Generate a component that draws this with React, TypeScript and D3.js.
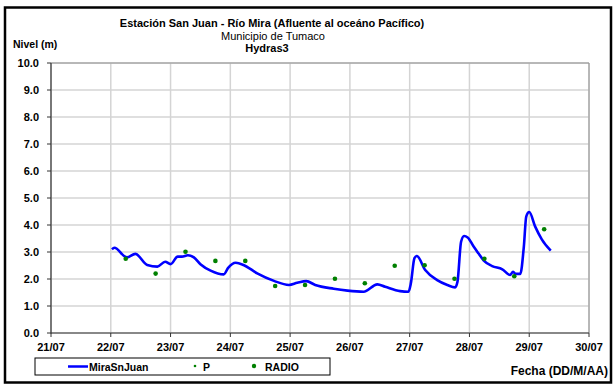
import React from "react";
import * as d3 from "d3";

const lineDays = [22.02, 22.06, 22.27, 22.41, 22.61, 22.78, 22.91, 23.0, 23.12, 23.19, 23.29, 23.39, 23.5, 23.67, 23.89, 23.96, 24.09, 24.22, 24.45, 24.73, 24.98, 25.12, 25.27, 25.42, 25.73, 25.96, 26.23, 26.46, 26.59, 26.84, 26.98, 27.02, 27.08, 27.12, 27.26, 27.46, 27.63, 27.76, 27.8, 27.86, 27.91, 27.97, 28.07, 28.15, 28.24, 28.38, 28.55, 28.68, 28.73, 28.77, 28.85, 28.91, 28.95, 29.0, 29.1, 29.21, 29.36];
const lineLevels = [3.1, 3.16, 2.8, 2.93, 2.52, 2.46, 2.64, 2.55, 2.83, 2.83, 2.88, 2.8, 2.55, 2.31, 2.17, 2.4, 2.6, 2.52, 2.21, 1.93, 1.78, 1.86, 1.92, 1.78, 1.64, 1.57, 1.53, 1.8, 1.71, 1.55, 1.53, 1.84, 2.77, 2.85, 2.33, 1.96, 1.78, 1.69, 1.9, 3.38, 3.59, 3.54, 3.2, 2.95, 2.68, 2.48, 2.36, 2.15, 2.27, 2.19, 2.19, 3.2, 4.31, 4.48, 3.94, 3.47, 3.05];

const radioDays = [22.25, 22.75, 23.25, 23.75, 24.25, 24.75, 25.25, 25.75, 26.25, 26.75, 27.25, 27.75, 28.25, 28.75, 29.25];
const radioLevels = [2.75, 2.2, 3.01, 2.67, 2.67, 1.74, 1.78, 2.01, 1.84, 2.49, 2.51, 2.01, 2.75, 2.1, 3.84];

const xTickDays = [21, 22, 23, 24, 25, 26, 27, 28, 29, 30];
const yTicks = [0, 1, 2, 3, 4, 5, 6, 7, 8, 9, 10];

const titleLines = ["Estación San Juan  - Río Mira (Afluente al oceáno Pacífico)", "Municipio de Tumaco", "Hydras3"];

const FONT = "'Liberation Sans', Arial, sans-serif";

export default function App() {
  const W = 614, H = 384;
  const left = 51, right = 589, top = 63, bottom = 333;
  const x = d3.scaleLinear().domain([21, 30]).range([left, right]);
  const y = d3.scaleLinear().domain([0, 10]).range([bottom, top]);
  const pts: [number, number][] = lineDays.map((d, i) => [d, lineLevels[i]]);
  const line = d3.line<[number, number]>().x(d => x(d[0])).y(d => y(d[1])).curve(d3.curveMonotoneX);
  const fmt = (d: number) => `${String(d).padStart(2, "0")}/07`;

  return (
    <svg width={W} height={H} style={{ position: "absolute", left: 0, top: 0, background: "#fff" }} fontFamily={FONT}>
      <rect x={0} y={0} width={W} height={H} fill="#fff" />
      <rect x={5} y={7.5} width={606} height={375} fill="none" stroke="#000" strokeWidth={2.5} />
      {/* grid */}
      {yTicks.map(t => (
        <line key={"gy" + t} x1={left} x2={right} y1={y(t)} y2={y(t)} stroke="#d4d4d4" strokeWidth={1.5} />
      ))}
      {xTickDays.map(t => (
        <line key={"gx" + t} x1={x(t)} x2={x(t)} y1={top} y2={bottom} stroke="#d4d4d4" strokeWidth={1.5} />
      ))}
      {/* frame */}
      <line x1={left} x2={right} y1={top} y2={top} stroke="#909090" strokeWidth={1} />
      <line x1={right} x2={right} y1={top} y2={bottom} stroke="#909090" strokeWidth={1} />
      <line x1={left} x2={left} y1={top} y2={bottom + 0.5} stroke="#333" strokeWidth={1.2} />
      <line x1={left} x2={right} y1={bottom} y2={bottom} stroke="#333" strokeWidth={1.2} />
      {yTicks.map(t => (
        <g key={"yt" + t}>
          <line x1={left - 4} x2={left} y1={y(t)} y2={y(t)} stroke="#333" strokeWidth={1} />
          <text x={39} y={y(t) + 4} textAnchor="end" fontSize={11} fontWeight="bold">{t.toFixed(1)}</text>
        </g>
      ))}
      {xTickDays.map(t => (
        <g key={"xt" + t}>
          <line x1={x(t)} x2={x(t)} y1={bottom} y2={bottom + 4} stroke="#333" strokeWidth={1} />
          <text x={x(t)} y={351} textAnchor="middle" fontSize={11} fontWeight="bold">{fmt(t)}</text>
        </g>
      ))}
      {/* series */}
      <path d={line(pts) || ""} fill="none" stroke="#0000ff" strokeWidth={2.6} strokeLinejoin="round" />
      {radioDays.map((d, i) => (
        <circle key={"r" + i} cx={x(d)} cy={y(radioLevels[i])} r={2.3} fill="#008000" />
      ))}
      {/* titles */}
      <text x={272} y={27} textAnchor="middle" fontSize={11} fontWeight="bold">{titleLines[0]}</text>
      <text x={273} y={40} textAnchor="middle" fontSize={11}>{titleLines[1]}</text>
      <text x={267} y={52} textAnchor="middle" fontSize={11} fontWeight="bold">{titleLines[2]}</text>
      <text x={13} y={48} fontSize={10.5} fontWeight="bold">Nivel (m)</text>
      <text x={608} y={375} textAnchor="end" fontSize={12} fontWeight="bold">Fecha (DD/M/AA)</text>
      {/* legend */}
      <rect x={35} y={358} width={295} height={17} fill="#fff" stroke="#000" strokeWidth={1} />
      <line x1={68} x2={88} y1={366.5} y2={366.5} stroke="#0000ff" strokeWidth={2.5} />
      <text x={89} y={370.5} fontSize={10.5} fontWeight="bold">MiraSnJuan</text>
      <circle cx={195} cy={366} r={1.3} fill="#008000" />
      <text x={203} y={370.5} fontSize={10.5} fontWeight="bold">P</text>
      <circle cx={254} cy={366} r={2.2} fill="#008000" />
      <text x={265} y={370.5} fontSize={10.5} fontWeight="bold">RADIO</text>
    </svg>
  );
}
